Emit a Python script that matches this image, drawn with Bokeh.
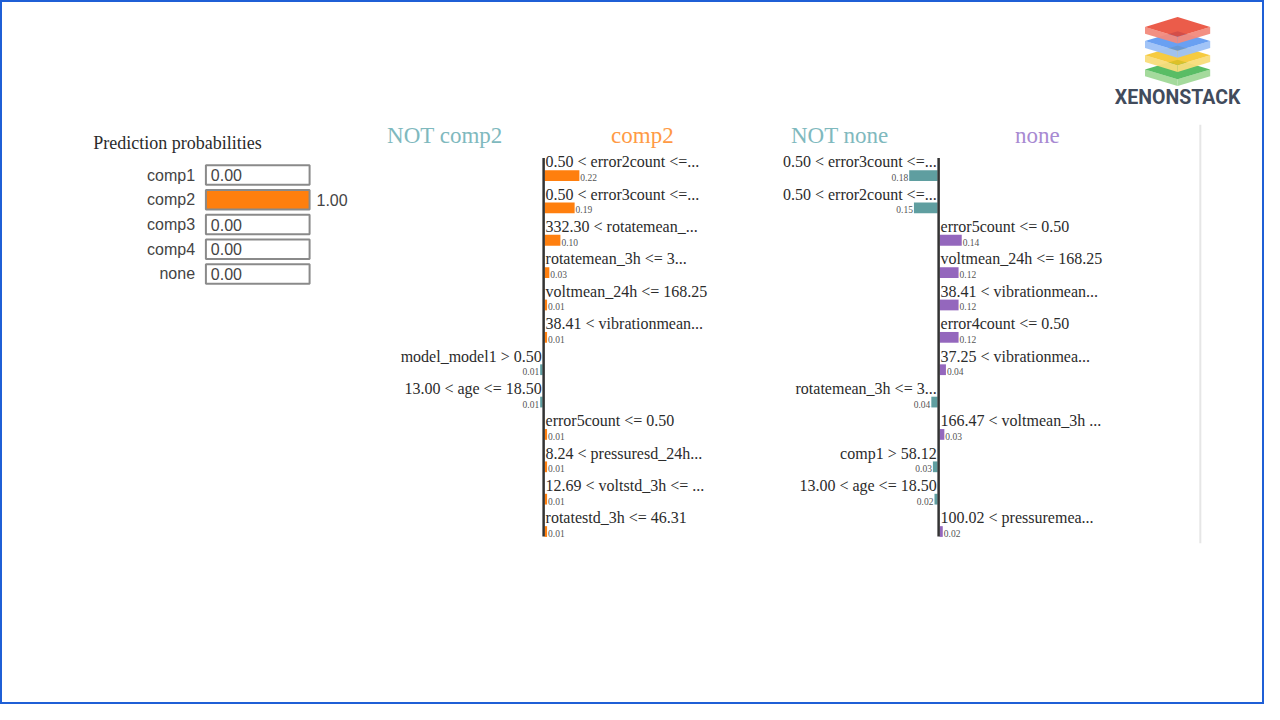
from bokeh.plotting import figure
from bokeh.models import Range1d
from bokeh.embed import file_html
from bokeh.resources import INLINE
from bokeh.core.properties import value

# ---------------- data ----------------
pred_classes = ["comp1", "comp2", "comp3", "comp4", "none"]
pred_probs = [0.00, 1.00, 0.00, 0.00, 0.00]

comp2_features = [
    "0.50 < error2count <=...",
    "0.50 < error3count <=...",
    "332.30 < rotatemean_...",
    "rotatemean_3h <= 3...",
    "voltmean_24h <= 168.25",
    "38.41 < vibrationmean...",
    "model_model1 > 0.50",
    "13.00 < age <= 18.50",
    "error5count <= 0.50",
    "8.24 < pressuresd_24h...",
    "12.69 < voltstd_3h <= ...",
    "rotatestd_3h <= 46.31",
]
comp2_weights = [0.22, 0.19, 0.10, 0.03, 0.01, 0.01, -0.01, -0.01, 0.01, 0.01, 0.01, 0.01]

none_features = [
    "0.50 < error3count <=...",
    "0.50 < error2count <=...",
    "error5count <= 0.50",
    "voltmean_24h <= 168.25",
    "38.41 < vibrationmean...",
    "error4count <= 0.50",
    "37.25 < vibrationmea...",
    "rotatemean_3h <= 3...",
    "166.47 < voltmean_3h ...",
    "comp1 > 58.12",
    "13.00 < age <= 18.50",
    "100.02 < pressuremea...",
]
none_weights = [-0.18, -0.15, 0.14, 0.12, 0.12, 0.12, 0.04, -0.04, 0.03, -0.03, -0.02, 0.02]

panels = [
    ("comp2", comp2_features, comp2_weights),
    ("none", none_features, none_weights),
]

# ---------------- style ----------------
SERIF = value("Liberation Serif")
SANS = value("Liberation Sans")
TXT = "#2b2b2b"
ORANGE = "#ff7f0e"
TEAL = "#5f9ea0"
PURPLE = "#9467bd"
class_colors = {"comp2": ORANGE, "none": PURPLE}
header_colors = {"comp2": "#ff9a45", "none": "#a88ad2", "NOT": "#7fb9be"}

W, H = 1264, 704
p = figure(width=W, height=H, x_range=Range1d(0, 1280), y_range=Range1d(720, 0),
           output_backend="svg", toolbar_location=None, min_border=0,
           x_axis_location=None, y_axis_location=None)
p.grid.visible = False
p.background_fill_color = "white"
p.outline_line_color = "#1f5fd6"
p.outline_line_width = 3

# ---------------- prediction probabilities ----------------
box_left, box_w, box_h = 208, 105, 20
row0, pitch = 178.5, 25.3
ys = [row0 + i * pitch for i in range(len(pred_classes))]

p.text(x=[94], y=[146], text=["Prediction probabilities"], text_font=SERIF,
       text_font_size="18px", text_color=TXT, text_baseline="middle")
p.quad(left=[box_left] * len(ys), right=[box_left + pr * box_w for pr in pred_probs],
       top=[y - box_h / 2 for y in ys], bottom=[y + box_h / 2 for y in ys],
       fill_color=ORANGE, line_color=None)
p.quad(left=[box_left] * len(ys), right=[box_left + box_w] * len(ys),
       top=[y - box_h / 2 for y in ys], bottom=[y + box_h / 2 for y in ys],
       fill_color=None, line_color="#8a8a8a", line_width=2)
p.text(x=[197] * len(ys), y=ys, text=pred_classes, text_align="right", text_baseline="middle",
       text_font=SANS, text_font_size="16px", text_color="#444444")
p.text(x=[box_left + pr * box_w + (7 if pr > 0.5 else 5) for pr in pred_probs], y=ys,
       text=["%.2f" % pr for pr in pred_probs], text_baseline="middle",
       text_font=SANS, text_font_size="16px", text_color="#444444")

# ---------------- explanation panels ----------------
scale = 160.0
label_y0, row_pitch = 165.0, 33.1
axis_xs = [550, 950]

for (cls, feats, weights), ax in zip(panels, axis_xs):
    n = len(feats)
    label_y = [label_y0 + i * row_pitch for i in range(n)]
    bar_y = [y + 14 for y in label_y]
    widths = [max(abs(w) * scale, 2.5) for w in weights]
    lefts = [ax + 1 if w > 0 else ax - 1 - wd for w, wd in zip(weights, widths)]
    rights = [ax + 1 + wd if w > 0 else ax - 1 for w, wd in zip(weights, widths)]
    colors = [class_colors[cls] if w > 0 else TEAL for w in weights]
    p.quad(left=lefts, right=rights, top=[y - 5.5 for y in bar_y], bottom=[y + 5.5 for y in bar_y],
           fill_color=colors, line_color=None)
    # axis line
    p.segment(x0=[ax], y0=[label_y[0] - 4], x1=[ax], y1=[bar_y[-1] + 5], line_color="#333333",
              line_width=2.5)
    # headers
    p.text(x=[ax - 100], y=[138], text=["NOT " + cls], text_align="center", text_baseline="middle",
           text_font=SERIF, text_font_size="23px", text_color=header_colors["NOT"])
    p.text(x=[ax + 100], y=[138], text=[cls], text_align="center", text_baseline="middle",
           text_font=SERIF, text_font_size="23px", text_color=header_colors[cls])
    # labels
    pos = [i for i in range(n) if weights[i] > 0]
    neg = [i for i in range(n) if weights[i] <= 0]
    p.text(x=[ax + 2] * len(pos), y=[label_y[i] for i in pos], text=[feats[i] for i in pos],
           text_align="left", text_baseline="middle", text_font=SERIF, text_font_size="16px",
           text_color=TXT)
    p.text(x=[ax - 2] * len(neg), y=[label_y[i] for i in neg], text=[feats[i] for i in neg],
           text_align="right", text_baseline="middle", text_font=SERIF, text_font_size="16px",
           text_color=TXT)
    # values
    p.text(x=[rights[i] + 1 for i in pos], y=[bar_y[i] + 2 for i in pos],
           text=["%.2f" % abs(weights[i]) for i in pos], text_align="left", text_baseline="middle",
           text_font=SERIF, text_font_size="9.5px", text_color="#555555")
    p.text(x=[lefts[i] - 1 for i in neg], y=[bar_y[i] + 2 for i in neg],
           text=["%.2f" % abs(weights[i]) for i in neg], text_align="right", text_baseline="middle",
           text_font=SERIF, text_font_size="9.5px", text_color="#555555")

# separator line on the right
p.segment(x0=[1215], y0=[127], x1=[1215], y1=[555], line_color="#e6e6e6", line_width=2)

# ---------------- logo ----------------
cx, hw, hh, th = 1192, 33, 10, 7
layers = [("#3cb24a", "#9fd897", 70.5), ("#f5c21f", "#f9dc7a", 56),
          ("#4f8ff0", "#9cc1f7", 41.5), ("#e8402a", "#f28a7c", 27)]
for col, side, yc in layers:
    p.patch(x=[cx - hw, cx, cx, cx - hw], y=[yc, yc + hh, yc + hh + th, yc + th],
            fill_color=side, fill_alpha=0.95, line_color=None)
    p.patch(x=[cx, cx + hw, cx + hw, cx], y=[yc + hh, yc, yc + th, yc + hh + th],
            fill_color=side, fill_alpha=0.95, line_color=None)
    p.patch(x=[cx - hw, cx, cx + hw, cx], y=[yc, yc - hh, yc, yc + hh],
            fill_color=col, fill_alpha=0.85, line_color=None)
p.text(x=[cx], y=[99], text=["XENONSTACK"], text_align="center", text_baseline="middle",
       text_font=value("Roboto"), text_font_size="19.5px", text_font_style="bold",
       text_color="#414b5c")

open("out.html", "w").write(file_html(p, INLINE))
